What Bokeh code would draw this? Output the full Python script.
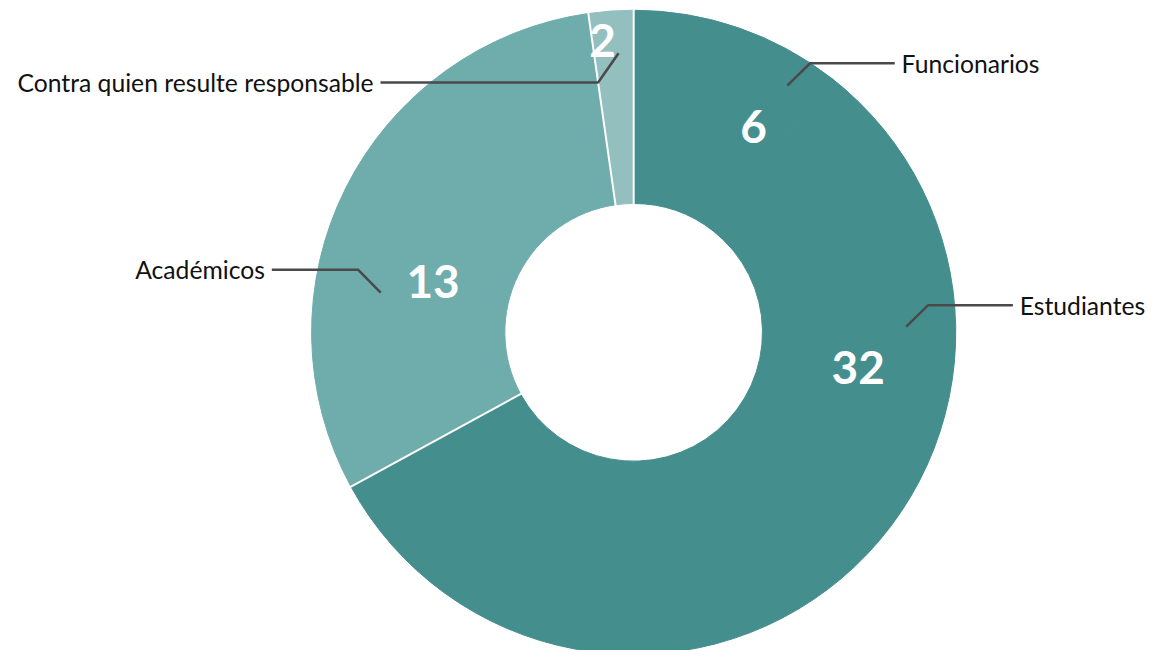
import math
from bokeh.plotting import figure
from bokeh.models import Range1d, ColumnDataSource
from bokeh.core.properties import value
from bokeh.embed import file_html
from bokeh.resources import INLINE

# ---------------- data ----------------
categories = ["Funcionarios", "Estudiantes", "Académicos", "Contra quien resulte responsable"]
counts = [6, 32, 13, 2]                       # numbers printed on the ring
share_pct = [10.58, 56.47, 30.70, 2.25]       # slice sizes as drawn in the picture (%)
colors = ["#458e8e", "#458e8e", "#6facac", "#93bfbf"]

# ---------------- layout ----------------
W, H = 1159, 650
REF_W, REF_H = 1175, 666
S = H / REF_H                                  # uniform px per data unit
XPAD = (W / S - REF_W) / 2
CX, CY = 642.5, REF_H - 340.0                  # donut centre (data units)
R_OUT, R_IN = 330.0, 132.0
# leader lines: start point and elbow in polar form (deg clockwise from top, radius)
leader_start = [(31.9, 297.8), (88.8, 279.3), (278.9, 262.4), (356.9, 286.4)]
leader_elbow = [(33.26, 329.7), (84.75, 302.8), (282.8, 289.7), (351.9, 258.6)]
leader_len = [86.7, 87.0, 88.3, 223.0]
label_gap = 7
# value labels (centre) in polar form
value_pos = [(30.22, 244.0), (98.85, 232.8), (284.12, 211.9), (353.89, 300.7)]

def polar(theta_deg, r):
    a = math.radians(90 - theta_deg)
    return CX + r * math.cos(a), CY + r * math.sin(a)

def px(v):
    return f"{v * S:.1f}px"

# cumulative angles
bounds = [0.0]
for s in share_pct:
    bounds.append(bounds[-1] + s * 3.6)
starts = bounds[:-1]
ends = bounds[1:]

p = figure(width=W, height=H, output_backend="svg", toolbar_location=None,
           x_range=Range1d(-XPAD, REF_W + XPAD), y_range=Range1d(0, REF_H),
           min_border=0, outline_line_color=None, background_fill_color="white",
           border_fill_color="white")
p.axis.visible = False
p.grid.visible = False

src = ColumnDataSource(dict(
    start=[math.radians(90 - s) for s in starts],
    end=[math.radians(90 - e) for e in ends],
    color=colors, cat=categories, val=counts))
p.annular_wedge(x=CX, y=CY, inner_radius=R_IN, outer_radius=R_OUT,
                start_angle="start", end_angle="end", direction="clock",
                fill_color="color", line_color="color", line_width=1, source=src)

# white separators between differently coloured slices
sx0, sy0, sx1, sy1 = [], [], [], []
n = len(categories)
for i in range(n):
    if colors[i] != colors[i - 1]:
        x0, y0 = polar(starts[i], R_IN - 1)
        x1, y1 = polar(starts[i], R_OUT + 1)
        sx0.append(x0); sy0.append(y0); sx1.append(x1); sy1.append(y1)
p.segment(x0=sx0, y0=sy0, x1=sx1, y1=sy1, line_color="white", line_width=2 * S)

# leader lines and category labels
xs, ys = [], []
lx, ly, lalign = [], [], []
for i in range(n):
    x0, y0 = polar(*leader_start[i])
    x1, y1 = polar(*leader_elbow[i])
    right = x1 > CX
    x2 = x1 + leader_len[i] if right else x1 - leader_len[i]
    xs.append([x0, x1, x2]); ys.append([y0, y1, y1])
    lx.append(x2 + label_gap if right else x2 - label_gap)
    ly.append(y1)
    lalign.append("left" if right else "right")
p.multi_line(xs=xs, ys=ys, line_color="#4a4a4a", line_width=2.6 * S)
p.text(x=lx, y=ly, text=categories, text_align=lalign, text_baseline="middle",
       text_font=value("Lato"), text_font_size=px(25.3), text_color="#111111")

# value labels
vx, vy = zip(*[polar(*vp) for vp in value_pos])
p.text(x=list(vx), y=list(vy), text=[str(c) for c in counts], text_align="center",
       text_baseline="middle", text_font=value("Lato"), text_font_style="bold",
       text_font_size=px(47), text_color="white")

open("out.html", "w").write(file_html(p, INLINE))
